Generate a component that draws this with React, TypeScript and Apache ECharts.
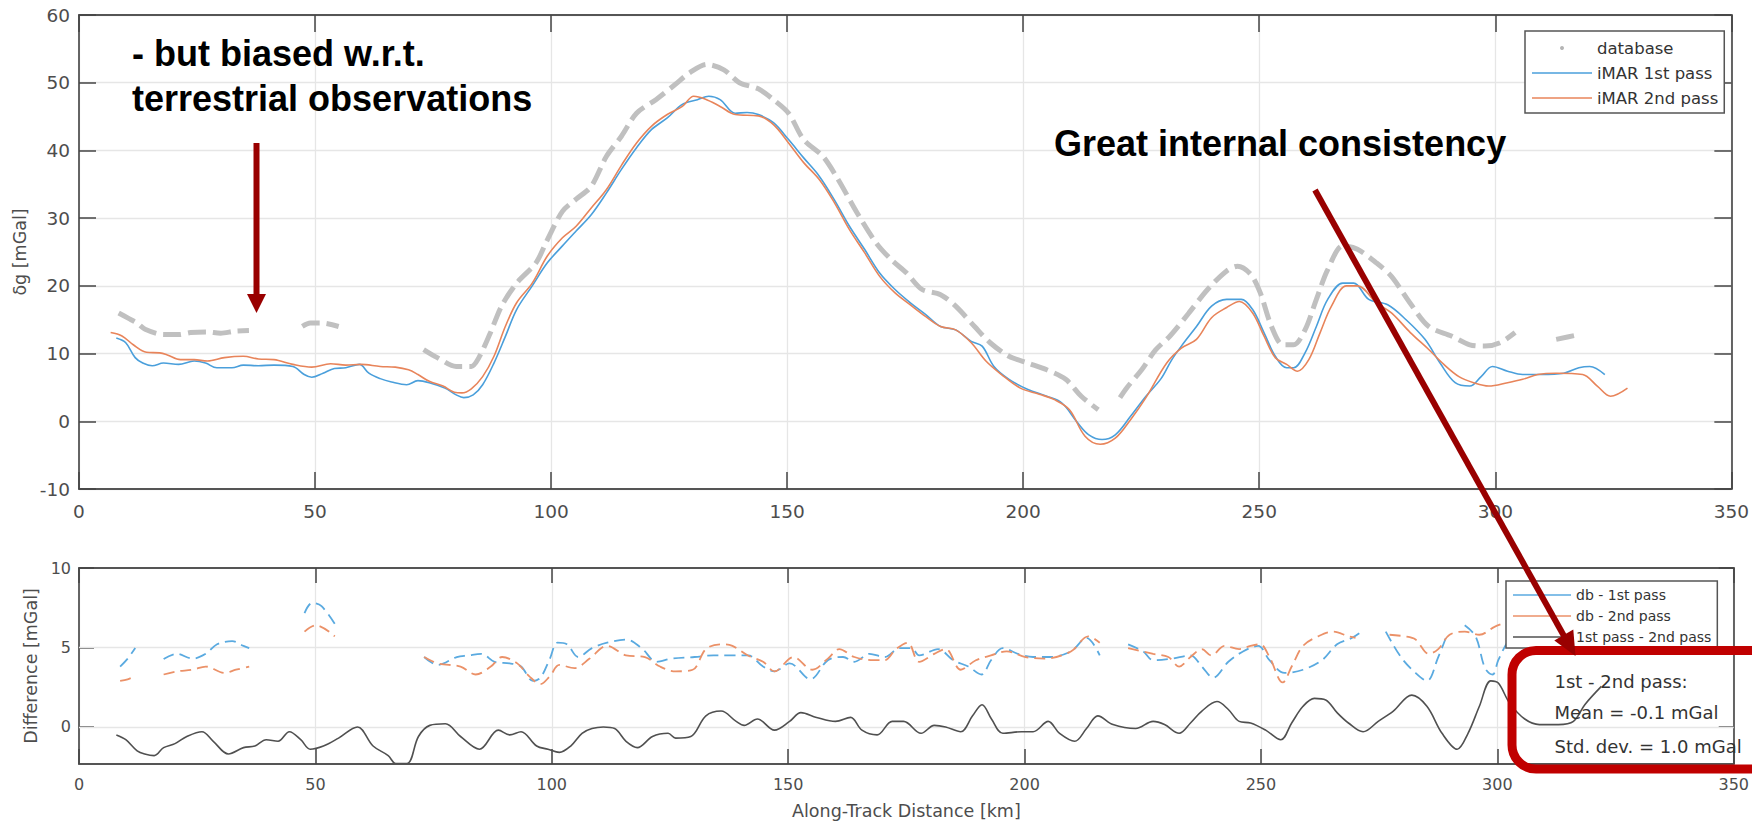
import React, { useEffect, useRef } from 'react';
import * as echarts from 'echarts';

// ---------- axis ticks ----------
const xTicks = [0, 50, 100, 150, 200, 250, 300, 350];
const topYTicks = [-10, 0, 10, 20, 30, 40, 50, 60];
const diffYTicks = [0, 5, 10];
const diffYMin = -2.33;

// ---------- upper panel: delta g [mGal] vs along-track distance [km] ----------
// null = gap in the data
const databaseData: ([number, number] | null)[] = [
  [8.4, 16.0], [10.5, 15.2], [12.3, 14.5], [14, 13.6], [17.9, 12.8], [21.1, 12.8], [23.6, 13.1], [27, 13.2],
  [30, 13.0], [33, 13.3], [36.0, 13.4], null,
  [47.3, 14.0], [49, 14.5], [51.5, 14.5], [55, 14.0], null,
  [73.0, 10.6], [75.9, 9.4], [79.9, 8.1], [83.1, 8.1], [84.7, 9.4], [87.1, 13.0], [89.5, 17.0], [92.7, 20.4],
  [96.8, 23.4], [99.2, 26.8], [102.4, 31.0], [105.3, 32.8], [108.5, 34.7], [111.7, 39.1], [114.9, 42.1],
  [118.1, 45.5], [122.2, 47.5], [126.2, 49.7], [129.4, 51.5], [133.0, 52.7], [136.6, 51.9], [139.9, 50.0],
  [143.9, 49.1], [147.1, 47.5], [150.3, 45.5], [153.5, 41.6], [157.6, 39.1], [160.8, 35.7], [164.8, 30.8],
  [168.8, 26.4], [172.0, 23.9], [175.3, 21.9], [178.5, 19.5], [182.5, 18.7], [185.7, 17.0], [189.7, 14.0],
  [193.0, 11.6], [197.0, 9.6], [201.0, 8.6], [205.0, 7.6], [209.0, 6.2], [212.3, 3.7], [215.9, 1.7], null,
  [220.5, 3.5], [222, 5.0], [225.1, 7.6], [228, 10.5], [231.1, 12.6], [235.1, 16.0], [239.1, 19.5],
  [243.1, 22.2], [245.4, 22.9], [248.2, 21.7], [250.2, 19.0], [252.6, 14.0], [255.0, 11.3], [257.3, 11.3],
  [259.7, 13.5], [262.1, 18.0], [264.5, 22.4], [267.7, 25.9], [270.8, 25.4], [274.8, 23.4], [278.0, 21.4],
  [281.9, 17.5], [285.9, 14.0], [290.7, 12.6], [294.6, 11.3], [297.8, 11.1], [301.0, 11.6], [304.2, 13.1], null,
  [312.9, 12.1], [317.7, 12.8],
];

const imar1Data: [number, number][] = [
  [7.9, 12.3], [9.9, 11.6], [11.9, 9.4], [13.5, 8.6], [15.5, 8.2], [17.9, 8.6], [21.1, 8.4], [24.4, 8.9],
  [26.8, 8.6], [29.2, 7.9], [32.4, 7.9], [34.8, 8.3], [38.0, 8.2], [41.3, 8.3], [45.3, 8.1], [47.7, 6.9],
  [49.3, 6.5], [51.7, 7.1], [54.1, 7.8], [56.5, 7.9], [59.4, 8.4], [61.4, 7.1], [63.8, 6.3], [66.2, 5.8],
  [69.4, 5.4], [71.8, 6.0], [74.2, 5.7], [77.5, 4.9], [79.9, 3.9], [81.5, 3.5], [83.5, 3.9], [85.5, 5.4],
  [87.9, 8.6], [90.3, 12.5], [92.7, 16.5], [96.0, 20.0], [99.2, 23.4], [102.4, 25.9], [105.3, 28.1],
  [108.5, 30.5], [111.7, 33.7], [114.9, 37.2], [118.1, 40.4], [121.3, 43.1], [124.6, 44.8], [127.8, 46.8],
  [131.0, 47.5], [133.4, 48.0], [135.8, 47.5], [139.0, 45.5], [141.5, 45.6], [143.9, 45.3], [147.1, 44.1],
  [150.3, 41.6], [153.5, 38.9], [156.8, 36.2], [160.0, 32.7], [163.2, 28.8], [166.4, 25.4], [169.6, 21.9],
  [172.8, 19.5], [176.1, 17.5], [179.3, 15.8], [182.5, 14.0], [185.7, 13.5], [189.0, 11.8], [191.3, 11.1],
  [193.8, 8.1], [197.0, 6.2], [201.0, 4.7], [205.0, 3.7], [208.2, 2.7], [211.5, -0.2], [213.9, -2.0],
  [216.7, -2.7], [219.5, -2.0], [222.7, 0.7], [226.0, 3.7], [229.2, 6.3], [231.4, 9.0], [233.5, 11.1],
  [236.7, 14.0], [239.9, 17.0], [243.1, 18.0], [246.2, 18.0], [248.6, 16.5], [251.0, 13.1], [253.4, 9.6],
  [255.8, 7.9], [257.3, 7.9], [259.7, 10.1], [262.1, 14.0], [264.5, 18.0], [267.7, 20.4], [270.0, 20.4],
  [273.2, 18.0], [277.2, 17.2], [281.1, 15.0], [285.1, 12.1], [288.3, 8.6], [291.5, 5.7], [294.6, 5.2],
  [297.0, 6.6], [299.4, 8.1], [302.6, 7.4], [305.8, 6.9], [309.7, 6.9], [314.5, 7.1], [317.7, 7.9],
  [320.0, 8.1], [323.2, 6.9],
];

const imar2Data: [number, number][] = [
  [6.7, 13.1], [9.1, 12.6], [11.5, 11.3], [14.3, 10.2], [17.1, 10.1], [18.7, 9.8], [21.5, 9.1], [24.4, 9.1],
  [27.2, 8.9], [30.8, 9.4], [34.8, 9.6], [38.0, 9.2], [41.3, 9.1], [45.3, 8.4], [49.3, 8.0], [53.3, 8.5],
  [56.5, 8.3], [59.7, 8.4], [63.8, 8.1], [67.0, 8.0], [69.8, 7.6], [71.8, 6.9], [74.2, 5.9], [77.1, 5.2],
  [79.5, 4.3], [81.1, 4.2], [83.1, 4.8], [85.5, 6.6], [87.9, 9.6], [90.3, 14.0], [92.7, 17.5], [96.0, 20.4],
  [99.2, 24.4], [102.4, 27.1], [105.3, 28.8], [108.5, 31.5], [111.7, 34.2], [114.9, 37.8], [118.1, 41.1],
  [121.3, 43.6], [124.6, 45.3], [127.8, 46.5], [130.2, 48.0], [132.6, 47.6], [135.8, 46.5], [139.0, 45.3],
  [143.9, 45.1], [147.1, 43.8], [150.3, 41.1], [153.5, 38.2], [156.8, 35.7], [160.0, 32.3], [163.2, 28.3],
  [166.4, 24.9], [169.6, 21.4], [172.8, 19.0], [176.1, 17.2], [179.3, 15.5], [182.5, 14.0], [185.7, 13.5],
  [189.0, 11.6], [192.1, 8.9], [195.4, 6.9], [199.4, 4.9], [203.4, 4.0], [206.6, 3.2], [209.8, 1.7],
  [213.1, -2.2], [216.3, -3.4], [219.5, -2.5], [222.7, 0.2], [226.0, 3.5], [230.4, 8.6], [233.5, 10.8],
  [236.7, 12.1], [239.9, 15.3], [243.1, 16.8], [245.8, 17.7], [248.6, 16.0], [251.0, 12.6], [253.4, 9.4],
  [255.8, 8.4], [258.1, 7.4], [260.5, 9.1], [262.9, 13.1], [265.3, 17.0], [268.5, 20.0], [270.8, 20.0],
  [274.8, 17.5], [278.0, 16.0], [282.0, 13.1], [285.9, 10.6], [289.1, 8.4], [292.3, 6.6], [295.4, 5.7],
  [298.6, 5.2], [302.6, 5.7], [305.8, 6.2], [309.0, 6.9], [312.9, 7.1], [318.5, 6.9], [321.6, 5.2],
  [324.4, 3.7], [328.0, 4.9],
];

// ---------- lower panel: differences [mGal] ----------
const dbMinus1Data: ([number, number] | null)[] = [
  [8.7, 3.8], [10.3, 4.3], [11.9, 4.96], null, [17.9, 4.27], [20.7, 4.6], [24.0, 4.3], [26.8, 4.6], [29.2, 5.2],
  [32.4, 5.4], [34.8, 5.1], [36.0, 4.96], null, [47.7, 7.16], [49.3, 7.8], [51.3, 7.6], [54.5, 6.3], null,
  [73.0, 4.4], [75.9, 3.9], [79.9, 4.4], [82.3, 4.5], [85.1, 4.6], [87.9, 4.1], [91.1, 4.0], [93.5, 3.8],
  [96.0, 2.9], [97.6, 3.1], [99.6, 4.3], [101.2, 5.3], [103.2, 5.2], [105.6, 4.4], [108.5, 4.96], [111.7, 5.3],
  [115.7, 5.5], [119.0, 4.96], [122.2, 4.1], [125.4, 4.3], [130.2, 4.4], [134.2, 4.5], [137.4, 4.5],
  [141.5, 4.5], [144.7, 3.8], [147.1, 3.5], [150.3, 4.0], [154.7, 3.0], [158.4, 4.2], [161.6, 4.4],
  [164.0, 4.1], [167.2, 4.6], [170.4, 4.4], [173.6, 4.96], [176.1, 4.96], [177.7, 4.5], [181.7, 4.9],
  [184.9, 4.2], [188.1, 3.8], [190.9, 3.3], [192.9, 4.2], [195.4, 4.96], [198.6, 4.6], [201.8, 4.4],
  [205.0, 4.4], [209.8, 4.75], [213.1, 5.6], [215.9, 4.5], null, [221.9, 5.2], [225.1, 4.75], [227.2, 4.2],
  [231.1, 4.3], [235.1, 4.5], [237.5, 3.8], [239.9, 3.1], [243.1, 4.1], [246.2, 4.75], [249.4, 5.1],
  [251.8, 4.2], [255.0, 3.4], [258.9, 3.6], [262.9, 4.2], [266.1, 5.2], [269.2, 5.6], [270.8, 5.9], null,
  [276.4, 6.0], [279.6, 4.4], [282.7, 3.4], [285.1, 2.9], [287.5, 4.4], [289.1, 5.6], null,
  [293.1, 6.4], [295.4, 5.7], [297.4, 3.7], [299.0, 3.3], [300.2, 4.2], [302.5, 5.5], [305, 6.2],
];

const dbMinus2Data: ([number, number] | null)[] = [
  [8.7, 2.9], [10.3, 3.0], [11.9, 3.2], null, [17.9, 3.3], [20.7, 3.5], [24.0, 3.6], [26.8, 3.8], [30.8, 3.4],
  [33.2, 3.6], [36.0, 3.8], null, [47.7, 6.0], [50.1, 6.4], [54.1, 5.7], null,
  [73.0, 4.4], [75.9, 4.0], [80.7, 3.8], [83.9, 3.3], [87.1, 3.8], [89.5, 4.4], [92.7, 4.0], [95.2, 3.2],
  [97.6, 2.7], [99.6, 3.2], [101.6, 3.9], [104.8, 3.7], [108.0, 4.3], [111.7, 5.1], [115.7, 4.5], [119.7, 4.4],
  [122.9, 3.8], [126.2, 3.5], [129.8, 3.6], [132.6, 4.9], [135.8, 5.2], [138.2, 5.1], [141.5, 4.5],
  [144.7, 4.1], [147.1, 3.5], [151.1, 4.4], [155.1, 3.6], [158.4, 4.3], [160.8, 4.9], [164.0, 4.4],
  [168.0, 4.2], [170.4, 4.2], [172.8, 4.9], [175.3, 5.3], [177.7, 4.1], [180.9, 4.6], [183.3, 4.9],
  [186.5, 3.6], [189.7, 4.2], [192.9, 4.5], [196.2, 4.75], [200.2, 4.4], [204.2, 4.3], [209.8, 4.75],
  [213.5, 5.7], [215.9, 5.3], null, [221.9, 4.96], [227.2, 4.6], [230.4, 4.4], [232.7, 3.8], [235.1, 4.4],
  [237.5, 4.9], [239.5, 4.5], [242.3, 5.1], [245.4, 4.9], [247.8, 5.1], [249.8, 5.2], [251.8, 4.4],
  [254.6, 2.8], [256.5, 3.8], [258.9, 5.1], [262.1, 5.7], [265.3, 6.0], [268.5, 5.7], [270.0, 5.6], null,
  [277.2, 5.8], [280.4, 5.7], [282.7, 5.5], [285.5, 4.6], [287.5, 4.9], [289.9, 5.8], [293.1, 6.0],
  [296.2, 5.8], [299.4, 6.3], [302, 6.6],
];

const pass1Minus2Data: [number, number][] = [
  [7.9, -0.5], [9.9, -0.8], [12.3, -1.5], [13.9, -1.7], [15.9, -1.8], [17.9, -1.3], [20.3, -1.05], [22.8, -0.6],
  [26.0, -0.3], [28.4, -0.9], [31.6, -1.7], [34.8, -1.3], [37.2, -1.2], [39.6, -0.8], [42.1, -0.9], [44.5, -0.3],
  [46.9, -0.8], [48.9, -1.4], [51.7, -1.2], [54.9, -0.7], [58.9, 0.0], [62.2, -1.2], [65.4, -1.8], [67.0, -2.3],
  [69.4, -2.3], [71.8, -0.6], [74.2, 0.1], [77.5, 0.2], [80.7, -0.6], [84.7, -1.4], [88.7, -0.2], [91.1, -0.5],
  [93.5, -0.3], [96.8, -1.2], [99.2, -1.4], [101.6, -1.6], [104.0, -1.2], [106.4, -0.4], [108.5, -0.1],
  [110.9, 0.0], [113.3, -0.1], [115.7, -0.9], [118.1, -1.3], [121.3, -0.6], [124.6, -0.4], [126.2, -0.7],
  [129.4, -0.6], [132.6, 0.7], [135.8, 1.0], [139.0, 0.35], [140.7, 0.1], [143.5, 0.5], [147.1, -0.2],
  [150.3, 0.35], [152.7, 0.9], [156.0, 0.6], [160.0, 0.35], [163.2, 0.6], [165.6, -0.2], [168.8, -0.5],
  [172.0, 0.35], [174.4, 0.35], [178.1, -0.4], [180.9, 0.1], [183.3, 0.0], [186.5, -0.3], [189.0, 0.7],
  [191.0, 1.4], [193.0, 0.5], [195.4, -0.4], [199.4, -0.3], [201.8, -0.3], [205.0, 0.35], [207.4, -0.4],
  [210.6, -0.9], [213.1, -0.1], [215.5, 0.7], [218.7, 0.15], [223.5, -0.1], [227.2, 0.35], [229.6, 0.15],
  [232.7, -0.4], [235.1, 0.25], [237.5, 1.0], [240.7, 1.6], [243.1, 1.1], [245.4, 0.35], [247.8, 0.25],
  [251.0, -0.2], [254.2, -0.8], [256.5, 0.25], [258.9, 1.3], [261.3, 1.8], [263.7, 1.7], [266.1, 0.9],
  [268.5, 0.25], [271.6, -0.3], [274.8, 0.35], [278.0, 1.0], [281.9, 2.0], [285.1, 1.3], [288.3, -0.4],
  [291.5, -1.4], [293.8, -0.4], [296.2, 1.3], [298.6, 2.9], [300.2, 2.76], [302.6, 1.5], [305.8, 0.5],
  [308.9, 0.15], [312.9, 0.15], [316.1, 0.35], [318.5, 1.4], [322.0, 2.55],
];

// ---------- texts ----------
const annotationLeft = ['- but biased w.r.t.', 'terrestrial observations'];
const annotationRight = 'Great internal consistency';
const statsLines = ['1st - 2nd pass:', 'Mean = -0.1 mGal', 'Std. dev. = 1.0 mGal'];

const FONT = '"DejaVu Sans", "Liberation Sans", Arial, sans-serif';
const BOLD = 'bold 36px "Liberation Sans", Arial, sans-serif';
const LINE_ICON = 'path://M0,0H60V1.6H0Z';

export default function App() {
  const ref = useRef<HTMLDivElement>(null);

  useEffect(() => {
    document.body.style.margin = '0';
    const chart = echarts.init(ref.current as HTMLDivElement, null, { renderer: 'svg' });

    const axisLine = { show: true, onZero: false, lineStyle: { color: '#555', width: 1.8 } };
    const tick = (len: number) => ({ show: true, inside: true, length: len, lineStyle: { color: '#444', width: 1.5 } });
    const gridLine = { show: true, lineStyle: { color: '#e6e6e6', width: 1.3 } };
    const label = (size: number, margin: number) => ({ fontFamily: FONT, fontSize: size, color: '#4d4d4d', margin });
    const nameStyle = { fontFamily: FONT, fontSize: 17.5, color: '#4d4d4d' };
    const xBase = {
      type: 'value',
      min: xTicks[0],
      max: xTicks[xTicks.length - 1],
      interval: xTicks[1] - xTicks[0],
    };
    const topYBase = {
      type: 'value',
      min: topYTicks[0],
      max: topYTicks[topYTicks.length - 1],
      interval: topYTicks[1] - topYTicks[0],
    };
    const diffYBase = { type: 'value', min: diffYMin, max: diffYTicks[diffYTicks.length - 1] };

    const option: any = {
      animation: false,
      backgroundColor: '#fff',
      grid: [
        { left: 79, top: 15, width: 1665, height: 474 },
        { left: 79, top: 568, width: 1665, height: 196 },
      ],
      xAxis: [
        { ...xBase, gridIndex: 0, position: 'bottom', axisLine, axisTick: tick(17), axisLabel: label(18.5, 13), splitLine: gridLine },
        {
          ...xBase, gridIndex: 1, position: 'bottom', axisLine, axisTick: tick(15), axisLabel: label(16, 12), splitLine: gridLine,
          name: 'Along-Track Distance [km]', nameLocation: 'middle', nameGap: 38, nameTextStyle: nameStyle,
        },
        { ...xBase, gridIndex: 0, position: 'top', axisLine, axisTick: tick(17), axisLabel: { show: false }, splitLine: { show: false } },
        { ...xBase, gridIndex: 1, position: 'top', axisLine, axisTick: tick(15), axisLabel: { show: false }, splitLine: { show: false } },
      ],
      yAxis: [
        {
          ...topYBase, gridIndex: 0, position: 'left', axisLine, axisTick: tick(17), axisLabel: label(18.5, 9), splitLine: gridLine,
          name: 'δg [mGal]', nameLocation: 'middle', nameGap: 46, nameRotate: 90, nameTextStyle: nameStyle,
        },
        {
          ...diffYBase, gridIndex: 1, position: 'left', axisLine,
          axisTick: { ...tick(15), customValues: diffYTicks },
          axisLabel: { ...label(16, 8), customValues: diffYTicks },
          splitLine: { show: false },
          name: 'Difference [mGal]', nameLocation: 'middle', nameGap: 28, nameRotate: 90, nameTextStyle: nameStyle,
        },
        { ...topYBase, gridIndex: 0, position: 'right', axisLine, axisTick: tick(17), axisLabel: { show: false }, splitLine: { show: false } },
        {
          ...diffYBase, gridIndex: 1, position: 'right', axisLine,
          axisTick: { ...tick(15), customValues: diffYTicks }, axisLabel: { show: false, customValues: diffYTicks }, splitLine: { show: false },
        },
      ],
      legend: [
        {
          orient: 'vertical', left: 1525, top: 31, padding: [7, 6, 5, 7], itemGap: 5, itemWidth: 60, itemHeight: 4,
          backgroundColor: '#fff', borderColor: '#555', borderWidth: 1.5, selectedMode: false,
          itemStyle: { borderWidth: 0 },
          textStyle: { fontFamily: FONT, fontSize: 16.5, color: '#333', lineHeight: 20 },
          data: [
            { name: 'database', icon: 'circle' },
            { name: 'iMAR 1st pass', icon: LINE_ICON },
            { name: 'iMAR 2nd pass', icon: LINE_ICON },
          ],
        },
        {
          orient: 'vertical', left: 1506, top: 581, padding: [5, 6, 2, 7], itemGap: 3, itemWidth: 58, itemHeight: 4,
          backgroundColor: '#fff', borderColor: '#555', borderWidth: 1.5, selectedMode: false,
          itemStyle: { borderWidth: 0 },
          textStyle: { fontFamily: FONT, fontSize: 14, color: '#333', lineHeight: 18 },
          data: [
            { name: 'db - 1st pass', icon: LINE_ICON },
            { name: 'db - 2nd pass', icon: LINE_ICON },
            { name: '1st pass - 2nd pass', icon: LINE_ICON },
          ],
        },
      ],
      series: [
        {
          name: 'database', type: 'line', xAxisIndex: 0, yAxisIndex: 0, data: databaseData, color: '#b5b5b5',
          showSymbol: false, symbol: 'circle', smooth: 0.3, connectNulls: false,
          lineStyle: { color: '#c0c0c0', width: 5, type: [18, 7] },
        },
        {
          name: 'iMAR 1st pass', type: 'line', xAxisIndex: 0, yAxisIndex: 0, data: imar1Data, color: '#4a9fdb',
          showSymbol: false, smooth: 0.35, lineStyle: { width: 1.6 },
        },
        {
          name: 'iMAR 2nd pass', type: 'line', xAxisIndex: 0, yAxisIndex: 0, data: imar2Data, color: '#e8845a',
          showSymbol: false, smooth: 0.35, lineStyle: { width: 1.6 },
        },
        {
          name: 'db - 1st pass', type: 'line', xAxisIndex: 1, yAxisIndex: 1, data: dbMinus1Data, color: '#5aaae0',
          showSymbol: false, smooth: 0.35, connectNulls: false, lineStyle: { width: 1.8, type: [11, 6] },
          markLine: {
            silent: true, symbol: 'none', z: 1, label: { show: false },
            lineStyle: { color: '#e6e6e6', width: 1.3, type: 'solid' },
            data: diffYTicks.filter((v) => v < diffYTicks[diffYTicks.length - 1]).map((v) => ({ yAxis: v })),
          },
        },
        {
          name: 'db - 2nd pass', type: 'line', xAxisIndex: 1, yAxisIndex: 1, data: dbMinus2Data, color: '#eb9168',
          showSymbol: false, smooth: 0.35, connectNulls: false, lineStyle: { width: 1.8, type: [11, 6] },
        },
        {
          name: '1st pass - 2nd pass', type: 'line', xAxisIndex: 1, yAxisIndex: 1, data: pass1Minus2Data, color: '#505050',
          showSymbol: false, smooth: 0.35, lineStyle: { width: 1.6 },
        },
      ],
      graphic: {
        elements: [
          { type: 'text', x: 132, y: 53, z: 100, style: { text: annotationLeft[0], font: BOLD, fill: '#000', verticalAlign: 'middle' } },
          { type: 'text', x: 132, y: 98, z: 100, style: { text: annotationLeft[1], font: BOLD, fill: '#000', verticalAlign: 'middle' } },
          { type: 'text', x: 1054, y: 143, z: 100, style: { text: annotationRight, font: BOLD, fill: '#000', verticalAlign: 'middle' } },
          { type: 'line', z: 100, shape: { x1: 256.5, y1: 143, x2: 256.5, y2: 297 }, style: { stroke: '#990000', lineWidth: 6 } },
          { type: 'polygon', z: 100, shape: { points: [[247, 294], [266, 294], [256.5, 313]] }, style: { fill: '#990000' } },
          { type: 'line', z: 100, shape: { x1: 1315, y1: 190, x2: 1564, y2: 636 }, style: { stroke: '#990000', lineWidth: 6 } },
          { type: 'polygon', z: 100, shape: { points: [[1554.3, 640.5], [1573.3, 629.6], [1575.5, 656]] }, style: { fill: '#990000' } },
          {
            type: 'rect', z: 99, shape: { x: 1512, y: 650.5, width: 330, height: 118.5, r: 24 },
            style: { fill: 'none', stroke: '#c00000', lineWidth: 9 },
          },
          ...statsLines.map((t, i) => ({
            type: 'text', x: 1554.5, y: [681.7, 712.7, 746][i], z: 101,
            style: { text: t, font: `18px ${FONT}`, fill: '#333', verticalAlign: 'middle' },
          })),
        ],
      },
    };

    chart.setOption(option);
    return () => chart.dispose();
  }, []);

  return <div ref={ref} style={{ width: 1752, height: 824 }} />;
}
